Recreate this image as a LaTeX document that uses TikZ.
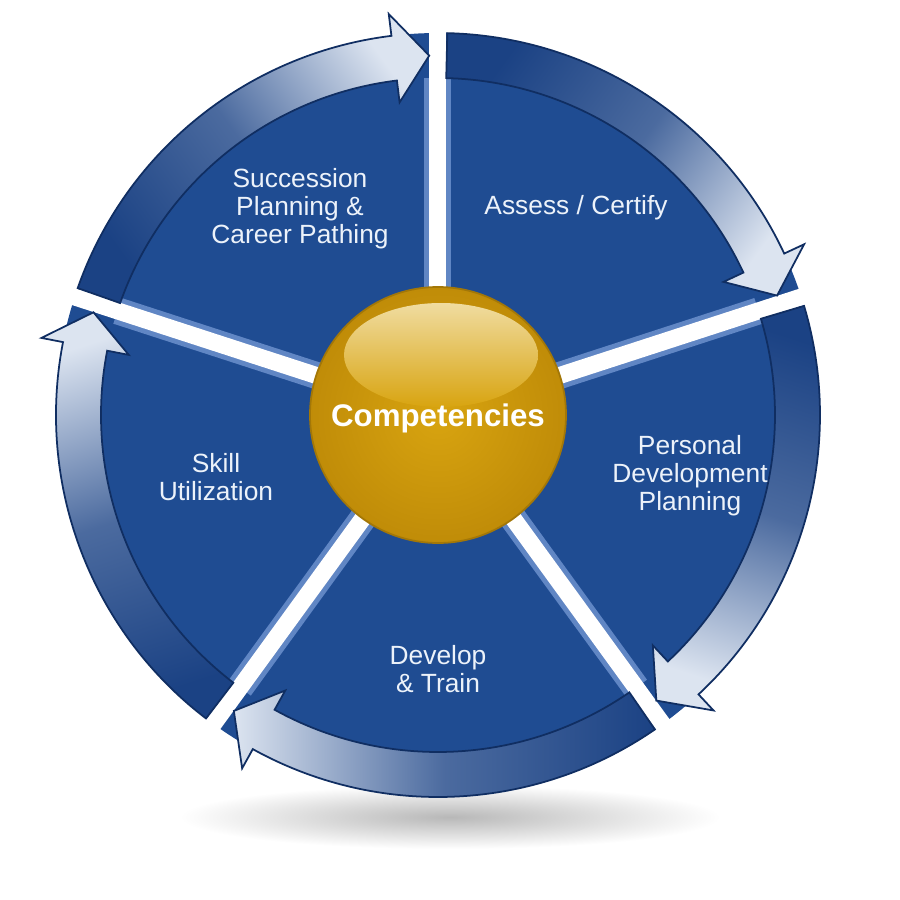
\documentclass[tikz,border=0pt]{standalone}
\usepackage{fontspec}
\setmainfont{Liberation Sans}
\usepackage{xcolor}
\definecolor{wheelblue}{RGB}{31,76,146}
\definecolor{banddark}{RGB}{27,66,132}
\definecolor{bandlight}{RGB}{220,228,240}
\definecolor{bevelblue}{RGB}{96,134,196}
\definecolor{rimline}{RGB}{16,46,98}
\definecolor{gold}{RGB}{216,164,16}
\definecolor{golddark}{RGB}{192,140,8}
\definecolor{goldlight}{RGB}{240,220,160}
\definecolor{labelwhite}{RGB}{236,242,250}

\begin{document}
\begin{tikzpicture}
  \tikzstyle{every node}+=[inner sep=0pt, align=center, text=labelwhite, font=\fontsize{7.5}{7.95}\selectfont]
  \tikzstyle{wedge}=[fill=wheelblue]
  \tikzstyle{band}=[draw=rimline, line width=0.5pt, top color=bandlight, bottom color=banddark, middle color=banddark!75!bandlight]
  \tikzstyle{gap}=[white, line width=0.17cm]
  \tikzstyle{bevel}=[bevelblue, line width=0.27cm]
  \useasboundingbox[fill=white] (-4.38,-4.85) rectangle (4.62,4.15);
  \shade[inner color=black!28, outer color=white] (0.12,-4.02) ellipse (2.7 and 0.32);
  \foreach \s in {162,90,18,-54,-126} {
    \fill[wedge] (0,0) -- (\s:3.82) arc[start angle=\s, end angle=\s-72, radius=3.82] -- cycle;
  }
  \foreach \a in {162,90,18,-54,-126} {
    \draw[bevel] (0,0) -- (\a:3.37);
    \draw[gap] (0,0) -- (\a:3.84);
  }
  \foreach \s in {162,90,18,-54,-126} {
    \pgfmathsetmacro{\e}{\s-72}
    \pgfmathsetmacro{\m}{\s-36-180}
    \path[band, shading angle=\m] ({\s-1.4}:3.37) arc[start angle=\s-1.4, end angle=\e+7, radius=3.37]
      -- ({\e+7}:3.15) -- ({\e+1.4}:3.595) -- ({\e+7}:4.04) -- ({\e+7}:3.82)
      arc[start angle=\e+7, end angle=\s-1.4, radius=3.82] -- cycle;
  }
  \node[circle, minimum size=2.56cm, inner color=gold, outer color=golddark, draw=golddark!85!black, line width=0.5pt] (core) at (0,0) {};
  \shade[top color=goldlight, bottom color=gold] (0.03,0.6) ellipse (0.97 and 0.52);
  \node[font=\fontsize{8.9}{9}\selectfont\bfseries, text=white] (comp) at (0,-0.03) {Competencies};
  \node (succession) at (-1.38,2.06) {Succession\\Planning \&\\Career Pathing};
  \node (assess) at (1.38,2.07) {Assess / Certify};
  \node (personal) at (2.52,-0.61) {Personal\\Development\\Planning};
  \node (develop) at (0,-2.54) {Develop\\\& Train};
  \node (skill) at (-2.22,-0.62) {Skill\\Utilization};
\end{tikzpicture}
\end{document}
